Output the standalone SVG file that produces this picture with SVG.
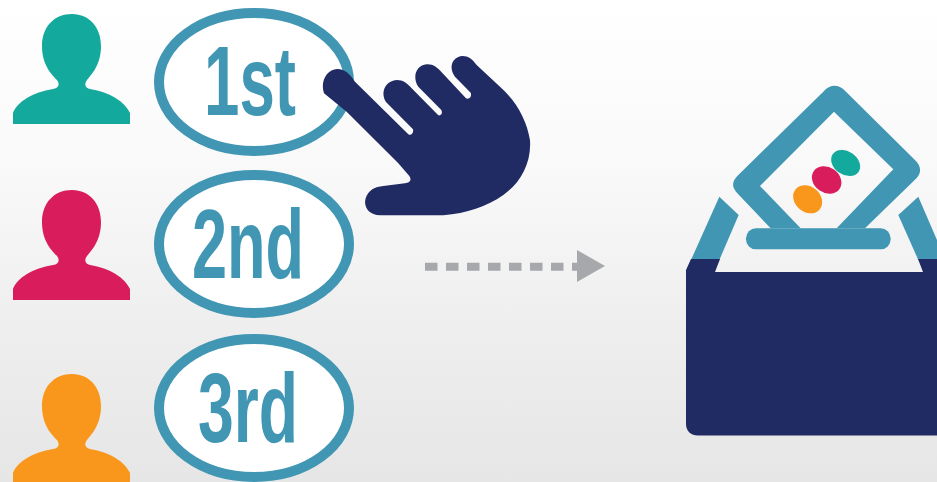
<svg xmlns="http://www.w3.org/2000/svg" width="937" height="482" viewBox="0 0 937 482">
<style>
.teal{fill:#4096b3}
.navy{fill:#212b63}
.ring{fill:#fff;stroke:#4096b3;stroke-width:10}
.rank{font-family:"Liberation Sans",Arial,sans-serif;font-weight:700;font-size:99px;fill:#4096b3}
</style>
<defs>
<linearGradient id="bg" x1="0" y1="0" x2="0" y2="1"><stop offset="0" stop-color="#fff"/><stop offset=".35" stop-color="#f9f9f9"/><stop offset=".5" stop-color="#f4f4f4"/><stop offset=".68" stop-color="#eee"/><stop offset="1" stop-color="#e6e6e6"/></linearGradient>
<path id="person" d="M13 124V113C17 102 33 92 53 89C59 88 60 84 57 80C53 76 42 66 42 46C42 27 54 14 72 14C90 14 101 28 101 46C101 66 90 76 87 80C84 84 85 88 90 89C110 92 125 102 130 113V124Z"/>
</defs>
<rect width="937" height="482" fill="url(#bg)"/>
<g id="voter-1"><use href="#person" fill="#13a99c"/></g>
<g id="voter-2"><use href="#person" y="176" fill="#d91c5c"/></g>
<g id="voter-3"><use href="#person" y="360" fill="#f9971d"/></g>
<g id="choice-1"><ellipse class="ring" cx="254" cy="82" rx="95" ry="69"/><text class="rank" x="204" y="115" textLength="92" lengthAdjust="spacingAndGlyphs">1st</text></g>
<g id="choice-2"><ellipse class="ring" cx="254" cy="244" rx="95" ry="69"/><text class="rank" x="192" y="278" textLength="112" lengthAdjust="spacingAndGlyphs">2nd</text></g>
<g id="choice-3"><ellipse class="ring" cx="254" cy="408" rx="95" ry="69"/><text class="rank" x="198" y="442" textLength="100" lengthAdjust="spacingAndGlyphs">3rd</text></g>
<g id="hand"><path class="navy" transform="translate(300 40) scale(.3333)" d="M72 160C60 125 80 88 112 87C135 87 150 103 165 125L325 283C333 288 342 280 339 268L258 186C240 160 255 122 290 120C310 120 322 130 335 145L415 226C425 228 428 218 424 210L355 140C335 110 350 75 380 73C400 72 412 82 425 97L498 175C510 180 516 168 512 158L465 110C445 85 455 50 488 48C505 48 517 57 530 75L600 140C650 185 680 240 690 300C695 370 660 430 610 465C560 500 500 520 430 526H240C205 525 190 500 197 475C205 450 225 440 250 438L315 430C330 428 336 420 328 408L295 370L140 215Z"/></g>
<g id="ballot-box">
<g transform="translate(680 80) scale(.3333)">
<path class="teal" fill-rule="evenodd" d="M430 35C450 12 475 12 495 32L705 240C725 258 725 280 708 296L555 445H272L172 340C155 322 155 305 172 288ZM462 95L240 318L362 445H470L640 268Z"/>
<rect class="teal" x="198" y="445" width="434" height="63" rx="30"/>
<g transform="rotate(35 497 249)"><ellipse cx="497" cy="249" rx="47" ry="35" fill="#13a99c"/></g>
<g transform="rotate(35 440 300)"><ellipse cx="440" cy="300" rx="47" ry="38" fill="#d91c5c"/></g>
<g transform="rotate(40 383 358)"><ellipse cx="383" cy="358" rx="47" ry="38" fill="#f9971d"/></g>
<path class="teal" d="M118 350L176 405L118 540H33Z"/>
<path class="teal" d="M715 350L655 405L715 540H771V480Z"/>
</g>
<path class="navy" d="M691 259H720L715 272H923L918 259H937V435.5H698C691 435.5 686 431 686 424V270Z"/>
</g>
<g id="connectors">
<path d="M425 266.7H578" fill="none" stroke="#a7a8ab" stroke-width="8" stroke-dasharray="12.5 8.5"/>
<path d="M577 250L605 266L577 282Z" fill="#a7a8ab"/>
</g>
</svg>
